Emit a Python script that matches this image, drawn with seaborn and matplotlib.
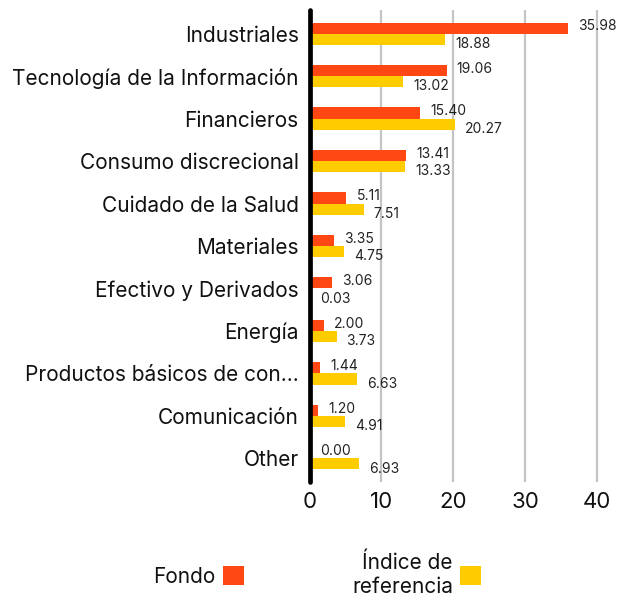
import matplotlib
matplotlib.use("Agg")
import matplotlib.pyplot as plt
import seaborn as sns
import pandas as pd
from matplotlib.patches import Patch

# data
categories = [
    "Industriales",
    "Tecnología de la Información",
    "Financieros",
    "Consumo discrecional",
    "Cuidado de la Salud",
    "Materiales",
    "Efectivo y Derivados",
    "Energía",
    "Productos básicos de con...",
    "Comunicación",
    "Other",
]
fondo = [35.98, 19.06, 15.40, 13.41, 5.11, 3.35, 3.06, 2.00, 1.44, 1.20, 0.00]
indice = [18.88, 13.02, 20.27, 13.33, 7.51, 4.75, 0.03, 3.73, 6.63, 4.91, 6.93]
series_names = ["Fondo", "Índice de\nreferencia"]
colors = ["#FF4713", "#FFCC00"]
xticks = [0, 10, 20, 30, 40]

sns.set_style("white")
plt.rcParams["font.family"] = ["Inter", "DejaVu Sans"]

df = pd.DataFrame({
    "cat": categories * 2,
    "val": fondo + indice,
    "serie": [series_names[0]] * len(fondo) + [series_names[1]] * len(indice),
})

fig = plt.figure(figsize=(6.17, 6.0), dpi=100)
ax = fig.add_axes([0.502, 0.197, 0.492, 0.786])

sns.barplot(data=df, y="cat", x="val", hue="serie", orient="h",
            palette=colors, width=0.52, ax=ax, legend=False,
            saturation=1, linewidth=0)

xmax = 42.3
ax.set_xlim(0, xmax)
ax.set_ylim(len(categories) - 0.45, -0.55)
ax.set_xticks(xticks)
ax.set_xlabel("")
ax.set_ylabel("")
for s in ax.spines.values():
    s.set_visible(False)
ax.grid(axis="x", color="#c4c4c4", lw=1.6)
ax.grid(axis="y", visible=False)
ax.set_axisbelow(True)
ax.axvline(0, color="black", lw=3.4, zorder=5, clip_on=False)
ax.tick_params(axis="both", length=0)
ax.tick_params(axis="y", labelsize=15, pad=8, colors="#111111")
ax.tick_params(axis="x", labelsize=16, pad=7, colors="#111111")

# value labels
for i, (a, b) in enumerate(zip(fondo, indice)):
    for v, dy in ((a, -0.17), (b, 0.24)):
        y = i + dy
        if v > xmax - 6:
            ax.text(xmax + 0.75, y - 0.02, f"{v:.2f}", ha="right", va="center",
                    fontsize=10, color="#222222", clip_on=False)
        else:
            ax.text(v + 1.4, y, f"{v:.2f}", ha="left", va="center",
                    fontsize=10, color="#222222")

handles = [Patch(facecolor=c, edgecolor="none") for c in colors]
leg = fig.legend(handles, series_names, loc="center", bbox_to_anchor=(0.514, 0.042),
                 ncol=2, frameon=False, markerfirst=False, fontsize=15,
                 handlelength=1.0, handleheight=1.0, columnspacing=5.2,
                 handletextpad=0.35)
for t in leg.get_texts():
    t.set_multialignment("right")
    t.set_color("#111111")

fig.savefig("out.png", dpi=100)
